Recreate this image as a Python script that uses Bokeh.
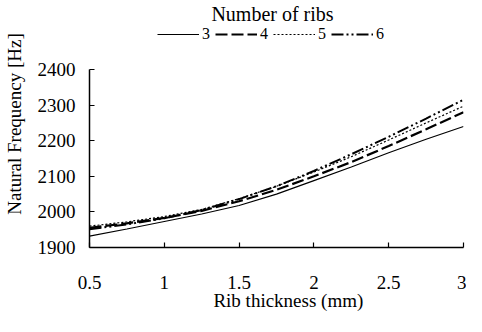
from bokeh.plotting import figure
from bokeh.models import Legend, LegendItem, Label, FixedTicker
from bokeh.embed import file_html
from bokeh.resources import INLINE

thickness = [0.5, 0.75, 1.0, 1.25, 1.5, 1.75, 2.0, 2.25, 2.5, 2.75, 3.0]
ribs3 = [1932, 1952, 1973, 1994, 2018, 2050, 2088, 2126, 2166, 2204, 2240]
ribs4 = [1955, 1968, 1983, 2003, 2030, 2062, 2100, 2140, 2185, 2232, 2280]
ribs5 = [1960, 1972, 1987, 2007, 2037, 2072, 2112, 2155, 2202, 2250, 2297]
ribs6 = [1951, 1965, 1982, 2005, 2036, 2072, 2115, 2162, 2211, 2262, 2315]
series_names = ["3", "4", "5", "6"]
x_ticks = [0.5, 1, 1.5, 2, 2.5, 3]
y_ticks = [1900, 2000, 2100, 2200, 2300, 2400]

FONT = "Liberation Serif"

# frame spans the whole height above the x axis; the y axis line is bounded to 1900-2400
p = figure(width=466, height=316, output_backend="svg", toolbar_location=None,
           x_range=(0.5, 3), y_range=(1900, 2593.8),
           min_border_left=89, min_border_right=3, min_border_bottom=69, min_border_top=0)
p.grid.visible = False
p.outline_line_color = None
p.background_fill_color = "white"
p.border_fill_color = "white"

styles = [
    dict(line_dash="solid", line_width=1.2),
    dict(line_dash="12 4", line_width=2.2),
    dict(line_dash="2 2", line_width=1.2),
    dict(line_dash="12 3 2 3 2 3", line_width=2.0),
]
renderers = []
for ys, st in zip([ribs3, ribs4, ribs5, ribs6], styles):
    r = p.line(thickness, ys, line_color="black", **st)
    renderers.append(r)

for ax in (p.xaxis[0], p.yaxis[0]):
    ax.axis_line_color = "black"
    ax.axis_line_width = 1.5
    ax.major_tick_in = 5
    ax.major_tick_out = 0
    ax.major_tick_line_width = 1.2
    ax.minor_tick_line_color = None
    ax.major_label_text_font = FONT
    ax.major_label_text_font_size = "19px"
    ax.major_label_text_color = "black"
    ax.axis_label_text_font = FONT
    ax.axis_label_text_font_size = "19px"
    ax.axis_label_text_font_style = "normal"
    ax.axis_label_text_color = "black"

p.yaxis.bounds = (1900, 2400)
p.xaxis.ticker = FixedTicker(ticks=x_ticks)
p.yaxis.ticker = FixedTicker(ticks=y_ticks)
p.xaxis.major_label_overrides = {0.5: "0.5", 1: "1", 1.5: "1.5", 2: "2", 2.5: "2.5", 3: "3"}
p.xaxis.axis_label = "\u00a0\u00a0\u00a0\u00a0\u00a0Rib thickness (mm)"
p.yaxis.axis_label = "Natural Frequency [Hz]"
p.xaxis.major_label_standoff = 28
p.xaxis.axis_label_standoff = -2
p.yaxis.major_label_standoff = 14
p.yaxis.axis_label_standoff = 10

legend = Legend(items=[LegendItem(label=n, renderers=[r]) for n, r in zip(series_names, renderers)],
                orientation="horizontal", location=(68, 204),
                label_text_font=FONT, label_text_font_size="16px", label_text_color="black",
                glyph_width=42, glyph_height=14, label_standoff=3, spacing=5,
                label_width=8, label_height=14,
                padding=0, margin=0, border_line_color=None, background_fill_alpha=0)
p.add_layout(legend, "center")
p.add_layout(Label(x=183, y=234, x_units="screen", y_units="screen", text="Number of ribs",
                   text_align="center", text_baseline="alphabetic", text_font=FONT,
                   text_font_size="20px", text_color="black"))

open("out.html", "w").write(file_html(p, INLINE))
